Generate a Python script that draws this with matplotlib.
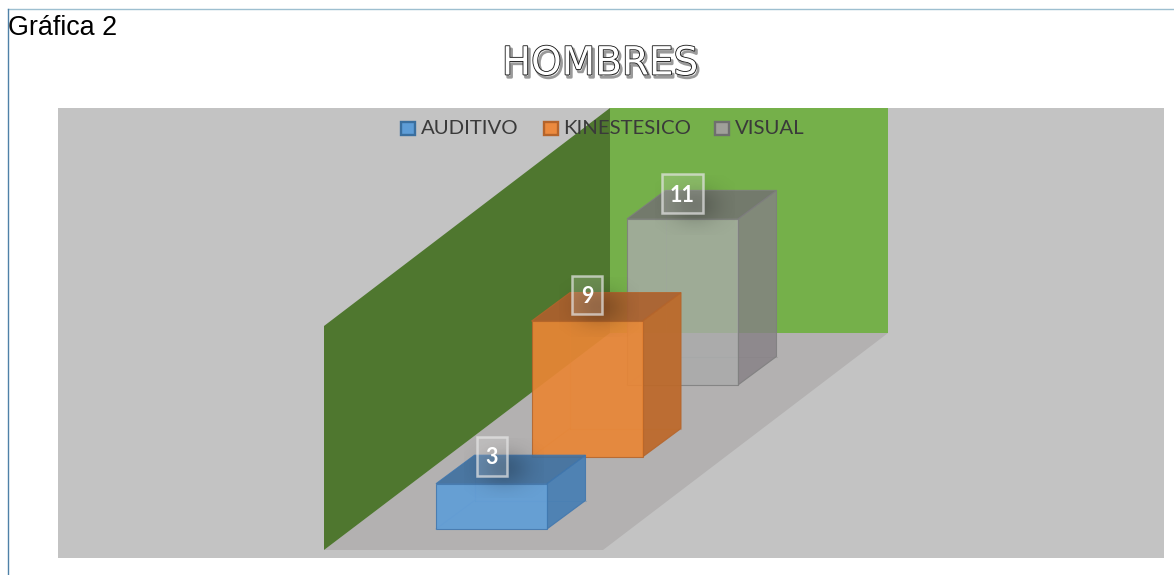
import numpy as np
import matplotlib
matplotlib.use("Agg")
import matplotlib.pyplot as plt
from matplotlib.patches import Polygon, Rectangle
import matplotlib.patheffects as pe

# ---- data ----
categories = ["AUDITIVO", "KINESTESICO", "VISUAL"]
values = [3, 9, 11]
labels = ["3", "9", "11"]

# ---- styles ----
front_cols = ["#5E9DD7", "#E98635", "#A9AAAA"]
side_cols = ["#447DB4", "#BD6828", "#858085"]
top_cols = ["#3F70A0", "#AD602D", "#736D75"]
edge_cols = ["#3F76AE", "#B5642A", "#7E7E7E"]
legend_cols = ["#5E9DD7", "#EC8A3E", "#A0A09A"]
legend_edges = ["#3A6F9F", "#B5642A", "#6F6F6F"]
alphas = [0.9, 0.92, 0.8]
legend_x = [400, 543, 714]
legend_tx = [421, 563.5, 735]
label_boxes = [(477, 437, 30, 39), (572, 276, 30, 38), (662, 174, 41, 39)]

W, H = 1174, 575
fig = plt.figure(figsize=(W / 100, H / 100), dpi=100, facecolor="white")
ax = fig.add_axes([0, 0, 1, 1])
ax.set_xlim(0, W)
ax.set_ylim(H, 0)
ax.axis("off")

# page frame
ax.plot([7.5, W], [8.5, 8.5], color="#9DBFD0", lw=1, zorder=1)
ax.plot([7.5, 7.5], [8.5, H], color="#4F81A8", lw=1, zorder=1)
ax.text(8, 28, "Gráfica 2", family="Liberation Sans", fontsize=19.4, color="#000000",
        va="center", ha="left", zorder=5)

# plot area and the 3D walls
ax.add_patch(Rectangle((58, 108), 1106, 450, fc="#C3C3C3", ec="none", zorder=1))
ax.add_patch(Polygon([(610, 108), (888, 108), (888, 333), (610, 333)], fc="#75B04A", ec="none", zorder=2))
ax.add_patch(Polygon([(324, 550), (603, 550), (888, 333), (610, 333)], fc="#B3B1B1", ec="none", zorder=2))
ax.add_patch(Polygon([(324, 326), (610, 108), (610, 333), (324, 550)], fc="#4F772F", ec="none", zorder=2))

# oblique projection of the bars
UNIT = 15.1
BAR_W = 111
DX, DY = 38.5, -28.5
X0, Y0 = 436, 529
STEP_X, STEP_Y = 95.5, -72

def proj(i, across, depth, val):
    """category index, 0..1 across, 0..1 in depth, value -> page pixels"""
    return (X0 + STEP_X * i + BAR_W * across + DX * depth,
            Y0 + STEP_Y * i + DY * depth - UNIT * val)

order = [2, 1, 0]
z = 3.0
for i in order:
    v = values[i]
    a = alphas[i]
    ec = matplotlib.colors.to_rgba(edge_cols[i], 0.28)
    # hidden edges
    for p, q in [((0, 1, 0), (1, 1, 0)), ((0, 1, 0), (0, 0, 0)), ((0, 1, 0), (0, 1, v))]:
        P, Q = proj(i, *p), proj(i, *q)
        ax.plot([P[0], Q[0]], [P[1], Q[1]], color=ec, lw=0.8, zorder=z)
    edge = matplotlib.colors.to_rgba(edge_cols[i], 0.85)
    ax.add_patch(Polygon([proj(i, 1, 0, 0), proj(i, 1, 1, 0), proj(i, 1, 1, v), proj(i, 1, 0, v)],
                         fc=matplotlib.colors.to_rgba(side_cols[i], a), ec=edge, lw=0.8, zorder=z + 0.1))
    ax.add_patch(Polygon([proj(i, 0, 0, v), proj(i, 1, 0, v), proj(i, 1, 1, v), proj(i, 0, 1, v)],
                         fc=matplotlib.colors.to_rgba(top_cols[i], a), ec=edge, lw=0.8, zorder=z + 0.1))
    ax.add_patch(Polygon([proj(i, 0, 0, 0), proj(i, 1, 0, 0), proj(i, 1, 0, v), proj(i, 0, 0, v)],
                         fc=matplotlib.colors.to_rgba(front_cols[i], a), ec=edge, lw=0.8, zorder=z + 0.1))
    z += 1

# soft shadows + data labels
yy, xx = np.mgrid[-1:1:60j, -1:1:60j]
glow = np.zeros((60, 60, 4))
glow[..., 3] = 0.22 * np.exp(-(xx ** 2 + yy ** 2) * 2.6)
for (x, y, w, h), txt in zip(label_boxes, labels):
    cx, cy = x + w / 2 + 12, y + h / 2 + 12
    ax.imshow(glow, extent=(cx - 40, cx + 40, cy + 30, cy - 30), zorder=7, interpolation="bilinear", aspect="auto")
    ax.add_patch(Rectangle((x, y), w, h, fc=(1, 1, 1, 0.16), ec=(0.9, 0.9, 0.9, 0.7), lw=1.8, zorder=8))
    ax.text(x + w / 2, y + h / 2 + 1.5, txt, color="white", fontsize=15.5, fontweight="bold", family="Lato",
            ha="center", va="center", zorder=9)
ax.set_xlim(0, W)
ax.set_ylim(H, 0)

# legend
for lx, tx, c, e, name in zip(legend_x, legend_tx, legend_cols, legend_edges, categories):
    ax.add_patch(Rectangle((lx + 0.5, 121.5), 14, 13, fc=c, ec=e, lw=1.7, zorder=10))
    ax.text(tx, 128.5, name, family="Lato", fontsize=14.7, color="#3A3A3A", ha="left", va="center", zorder=10)

# title with bevelled shadow
ax.text(600, 59.5, "HOMBRES", family="DejaVu Sans", fontsize=28, color="white", ha="center", va="center_baseline", zorder=10,
        path_effects=[pe.Stroke(linewidth=2.0, foreground="#9A9A9A", offset=(1.5, -2)),
                      pe.Stroke(linewidth=1.2, foreground="#151515"),
                      pe.Normal()])

fig.savefig("out.png", dpi=100, facecolor="white")
